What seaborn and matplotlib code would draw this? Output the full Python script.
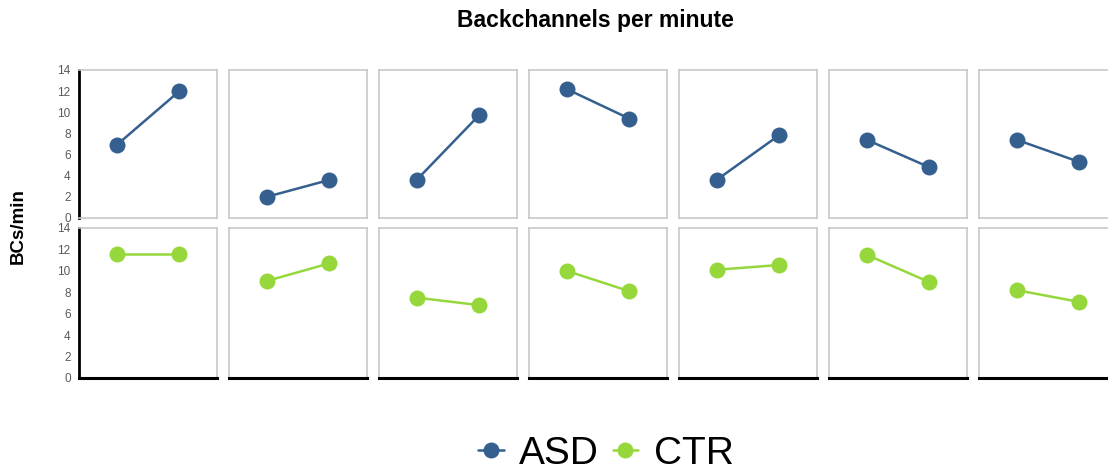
import numpy as np
import pandas as pd
import seaborn as sns
import matplotlib.pyplot as plt

# values: two conditions per panel, 7 panels per group
panels = list(range(7))
conditions = [0, 1]
asd_first = [6.9, 2.0, 3.6, 12.2, 3.6, 7.4, 7.4]
asd_second = [12.0, 3.6, 9.75, 9.4, 7.85, 4.8, 5.3]
ctr_first = [11.6, 9.05, 7.5, 10.0, 10.1, 11.5, 8.2]
ctr_second = [11.6, 10.7, 6.8, 8.1, 10.55, 8.95, 7.1]
groups = ["ASD", "CTR"]
yticks = [0, 2, 4, 6, 8, 10, 12, 14]

palette = {"ASD": "#355f8f", "CTR": "#96d83b"}

rows = []
for g, first, second in [("ASD", asd_first, asd_second), ("CTR", ctr_first, ctr_second)]:
    for p in panels:
        rows.append({"group": g, "panel": p, "cond": conditions[0], "bcs": first[p]})
        rows.append({"group": g, "panel": p, "cond": conditions[1], "bcs": second[p]})
df = pd.DataFrame(rows)

sns.set_style("white")
plt.rcParams["font.family"] = ["Liberation Sans", "DejaVu Sans"]
plt.rcParams["text.color"] = "black"

fig = plt.figure(figsize=(11.08, 4.75), dpi=100)
W, H = 1108, 475
gray = "#c8c8c8"

# pixel layout of the panels
row_px = {"ASD": (70, 218), "CTR": (228, 378)}

for g in groups:
    top, bottom = row_px[g]
    for p in panels:
        left = 79 + 150 * p
        ax = fig.add_axes([left / W, 1 - bottom / H, 138 / W, (bottom - top) / H])
        sub = df[(df["group"] == g) & (df["panel"] == p)]
        sns.lineplot(
            data=sub, x="cond", y="bcs", color=palette[g], marker="o",
            markersize=11.5, markeredgewidth=0, linewidth=1.8, ax=ax, legend=False,
        )
        ax.set_xlim(-0.6, 1.6)
        ax.set_ylim(0, 14)
        ax.set_xticks([])
        ax.set_xlabel("")
        ax.set_ylabel("")
        for s in ax.spines.values():
            s.set_color(gray)
            s.set_linewidth(1.2)
            s.set_visible(True)
        if p == 6:
            ax.spines["right"].set_visible(False)
        if p == 0:
            ax.spines["left"].set_color("black")
            ax.spines["left"].set_linewidth(2)
            ax.set_yticks(yticks)
            ax.tick_params(axis="y", length=0, pad=6, labelsize=8.5, labelcolor="#595959")
        else:
            ax.set_yticks([])
        if g == "CTR":
            ax.spines["bottom"].set_color("black")
            ax.spines["bottom"].set_linewidth(2.2)

fig.text(595 / W, 1 - 21 / H, "Backchannels per minute", ha="center", va="center",
         fontsize=16.5, fontweight="bold")
fig.text(18 / W, 1 - 226 / H, "BCs/min", ha="center", va="center", rotation=90,
         fontsize=13.5, fontweight="bold")

handles = [
    plt.Line2D([], [], color=palette[g], marker="o", markersize=11.5,
               markeredgewidth=0, linewidth=1.8)
    for g in groups
]
fig.legend(handles, groups, loc="center", bbox_to_anchor=(606 / W, 1 - 454 / H),
           ncol=2, frameon=False, fontsize=28, handlelength=0.65, handletextpad=0.4,
           columnspacing=0.35, borderpad=0)

fig.savefig("out.png", dpi=100)
